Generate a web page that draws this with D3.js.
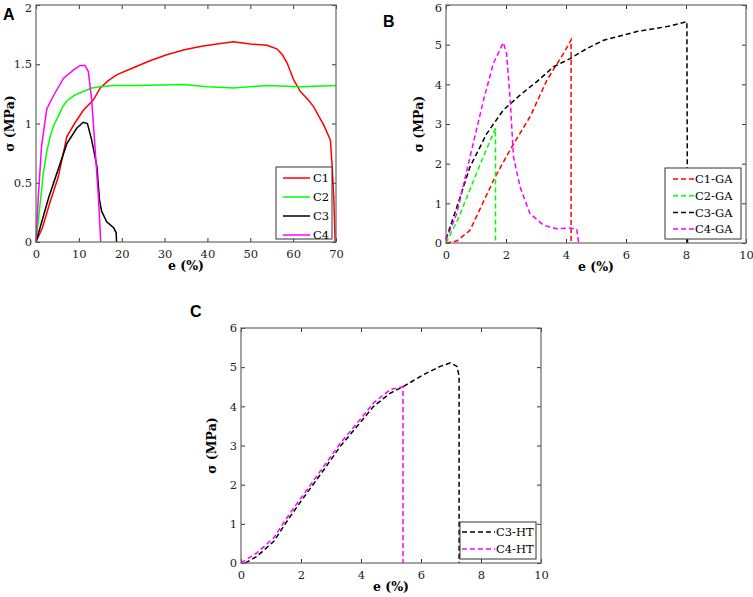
<!DOCTYPE html>
<html>
<head>
<meta charset="utf-8">
<script src="https://cdn.jsdelivr.net/npm/d3@7"></script>
<style>
  body { margin: 0; background: #fff; }
  svg { display: block; }
</style>
</head>
<body>
<svg id="fig" width="753" height="597"></svg>
<script>
// panel A : strain e (%) vs stress (MPa)
var c1 = [[0,0],[1.5,0.12],[3.3,0.34],[5.2,0.55],[7.2,0.89],[9,1.0],[11,1.11],[13.4,1.2],[15,1.3],[16.8,1.36],[18.8,1.41],[22.7,1.47],[26.6,1.53],[30.5,1.58],[34.4,1.62],[38.3,1.65],[42.2,1.67],[46.1,1.69],[50,1.67],[53.9,1.66],[56.2,1.63],[57.5,1.58],[58.6,1.51],[60.1,1.37],[61.7,1.27],[63.5,1.2],[64.8,1.14],[66,1.06],[67.1,0.99],[68.7,0.86],[69.1,0.64],[69.5,0.36],[69.8,0]];
var c2 = [[0,0],[0.9,0.3],[1.7,0.58],[2.5,0.76],[3.3,0.89],[4.2,0.99],[5.2,1.06],[6.2,1.14],[7.2,1.19],[9,1.24],[11,1.27],[13,1.3],[15,1.31],[18,1.32],[22.7,1.32],[34.4,1.33],[39.9,1.31],[46.1,1.30],[53.9,1.32],[61.7,1.31],[70,1.32]];
var c3 = [[0,0],[3,0.38],[7.2,0.83],[9.5,0.96],[11,1.01],[12,1.0],[13,0.86],[14.2,0.64],[14.8,0.36],[15.3,0.26],[16.5,0.17],[18.1,0.12],[18.7,0.08],[18.8,0]];
var c4 = [[0,0],[0.5,0.36],[1.3,0.81],[2.5,1.12],[4,1.23],[6.4,1.38],[8.7,1.45],[10.3,1.49],[11.4,1.49],[12.2,1.44],[13,1.2],[13.8,0.78],[14.6,0.36],[15.1,0]];

// panel B : GA samples
var c1ga = [[0,0],[0.36,0.05],[0.8,0.32],[1.64,1.67],[2.19,2.42],[2.8,3.18],[3.36,4.1],[3.92,4.78],[4.17,5.12],[4.17,0]];
var c2ga = [[0,0],[0.4,0.6],[0.8,1.35],[1.2,2.1],[1.65,2.89],[1.65,0]];
var c3ga = [[0,0.1],[0.36,0.9],[0.8,1.92],[1.36,2.76],[1.91,3.35],[2.47,3.73],[3.03,4.07],[3.58,4.44],[4.14,4.65],[4.69,4.9],[5.25,5.11],[6.36,5.33],[7.47,5.47],[8.03,5.58],[8.05,0]];
var c4ga = [[0,0.07],[0.36,0.74],[0.8,2.17],[1.25,3.6],[1.58,4.53],[1.91,5.05],[2.02,4.78],[2.14,3.6],[2.25,2.17],[2.47,1.41],[2.8,0.74],[3.25,0.45],[3.69,0.36],[4.14,0.38],[4.36,0.34],[4.42,0]];

// panel C : HT samples
var c3ht = [[0.14,0],[0.53,0.17],[1.09,0.55],[1.64,1.19],[2.2,1.79],[2.76,2.38],[3.31,2.98],[3.87,3.49],[4.42,4.0],[4.98,4.34],[5.42,4.51],[6.09,4.81],[6.64,5.02],[6.98,5.11],[7.2,5.02],[7.27,4.77],[7.27,0]];
var c4ht = [[0,0],[0.53,0.26],[1.09,0.64],[1.64,1.28],[2.2,1.87],[2.76,2.47],[3.31,3.06],[3.87,3.57],[4.42,4.09],[4.98,4.43],[5.4,4.5],[5.4,0]];

var ticksA_x = [0,10,20,30,40,50,60,70], ticksA_y = [0,0.5,1,1.5,2];
var ticksBC_x = [0,2,4,6,8,10], ticksBC_y = [0,1,2,3,4,5,6];

var svg = d3.select("#fig");
var axisColor = "#666";
var serif = "DejaVu Serif, serif";

function drawPanel(p) {
  var g = svg.append("g").attr("transform", "translate(" + p.left + "," + p.top + ")");
  var w = p.width, h = p.height;
  var x = d3.scaleLinear().domain(p.xdom).range([0, w]);
  var y = d3.scaleLinear().domain(p.ydom).range([h, 0]);

  // ticks inside, mirrored on top / right like matlab
  var fmt = d3.format("~g");
  g.append("g").attr("transform", "translate(0," + h + ")")
    .call(d3.axisBottom(x).tickValues(p.xt).tickSizeInner(-4).tickSizeOuter(0).tickPadding(8).tickFormat(fmt));
  var yl = g.append("g")
    .call(d3.axisLeft(y).tickValues(p.yt).tickSizeInner(-4).tickSizeOuter(0).tickPadding(4).tickFormat(fmt));
  g.append("g")
    .call(d3.axisTop(x).tickValues(p.xt).tickSizeInner(-4).tickSizeOuter(0).tickFormat(""));
  g.append("g").attr("transform", "translate(" + w + ",0)")
    .call(d3.axisRight(y).tickValues(p.yt).tickSizeInner(-4).tickSizeOuter(0).tickFormat(""));
  g.selectAll(".domain").remove();
  g.selectAll(".tick line").attr("stroke", "#333");
  g.selectAll(".tick text")
    .attr("font-family", serif).attr("font-size", 11.5).attr("fill", "#222");
  // top panels: highest label squeezed against the page edge, push it down a bit
  if (p.top < 10) yl.selectAll(".tick text").filter(d => d == p.ydom[1]).attr("dy", "0.55em");

  var line = d3.line().x(d => x(d[0])).y(d => y(d[1]));
  g.append("g").selectAll("path")
    .data(p.series).enter().append("path")
      .attr("d", d => line(d.data))
      .attr("fill", "none")
      .attr("stroke", d => d.color)
      .attr("stroke-width", 1.5)
      .attr("stroke-dasharray", p.dash || null);

  // box
  g.append("rect").attr("width", w).attr("height", h)
    .attr("fill", "none").attr("stroke", axisColor).attr("stroke-width", 1.2);

  // axis labels
  g.append("text")
    .attr("x", w / 2).attr("y", h + 28)
    .attr("text-anchor", "middle")
    .attr("font-family", serif).attr("font-weight", "bold").attr("font-size", 12.5)
    .text("e (%)");
  g.append("text")
    .attr("transform", "translate(" + p.ylabX + "," + (h / 2) + ") rotate(-90)")
    .attr("text-anchor", "middle")
    .attr("font-family", serif).attr("font-weight", "bold").attr("font-size", 12.5)
    .text("σ (MPa)");

  // legend
  var lg = g.append("g").attr("transform", "translate(" + p.leg.x + "," + p.leg.y + ")");
  lg.append("rect").attr("width", p.leg.w).attr("height", p.leg.h)
    .attr("fill", "#fff").attr("stroke", "#333").attr("stroke-width", 1);
  var item = lg.selectAll("g.item").data(p.series).enter().append("g")
    .attr("transform", (d, i) => "translate(0," + (p.leg.first + i * p.leg.step) + ")");
  item.append("line")
    .attr("x1", p.leg.lx1).attr("x2", p.leg.lx2)
    .attr("stroke", d => d.color).attr("stroke-width", 1.5)
    .attr("stroke-dasharray", p.dash || null);
  item.append("text")
    .attr("x", p.leg.tx).attr("dy", "0.36em")
    .attr("font-family", serif).attr("font-size", 11.5)
    .text(d => d.name);

  // panel letter
  svg.append("text")
    .attr("x", p.letter[0]).attr("y", p.letter[1])
    .attr("font-family", "Liberation Sans, Arial, sans-serif").attr("font-weight", "bold").attr("font-size", 16)
    .text(p.label);
}

drawPanel({
  label: "A", letter: [3, 20],
  left: 36, top: 5, width: 300, height: 237,
  xdom: [0, 70], ydom: [0, 2], xt: ticksA_x, yt: ticksA_y, ylabX: -22,
  series: [
    {name: "C1", color: "#ff0000", data: c1},
    {name: "C2", color: "#00ff00", data: c2},
    {name: "C3", color: "#000000", data: c3},
    {name: "C4", color: "#ff00ff", data: c4}
  ],
  leg: {x: 240, y: 162, w: 56, h: 72, first: 11, step: 19, lx1: 7, lx2: 34, tx: 37}
});

drawPanel({
  label: "B", letter: [383, 27],
  left: 446, top: 5, width: 300, height: 238,
  xdom: [0, 10], ydom: [0, 6], xt: ticksBC_x, yt: ticksBC_y, ylabX: -23, dash: "5,3",
  series: [
    {name: "C1-GA", color: "#ff0000", data: c1ga},
    {name: "C2-GA", color: "#00ff00", data: c2ga},
    {name: "C3-GA", color: "#000000", data: c3ga},
    {name: "C4-GA", color: "#ff00ff", data: c4ga}
  ],
  leg: {x: 219, y: 163, w: 76, h: 71, first: 11, step: 16.7, lx1: 8, lx2: 29, tx: 30}
});

drawPanel({
  label: "C", letter: [190, 317],
  left: 241, top: 328, width: 300, height: 235,
  xdom: [0, 10], ydom: [0, 6], xt: ticksBC_x, yt: ticksBC_y, ylabX: -25, dash: "5,3",
  series: [
    {name: "C3-HT", color: "#000000", data: c3ht},
    {name: "C4-HT", color: "#ff00ff", data: c4ht}
  ],
  leg: {x: 219, y: 194, w: 76, h: 37, first: 10, step: 17, lx1: 2, lx2: 35, tx: 36}
});
</script>
</body>
</html>
